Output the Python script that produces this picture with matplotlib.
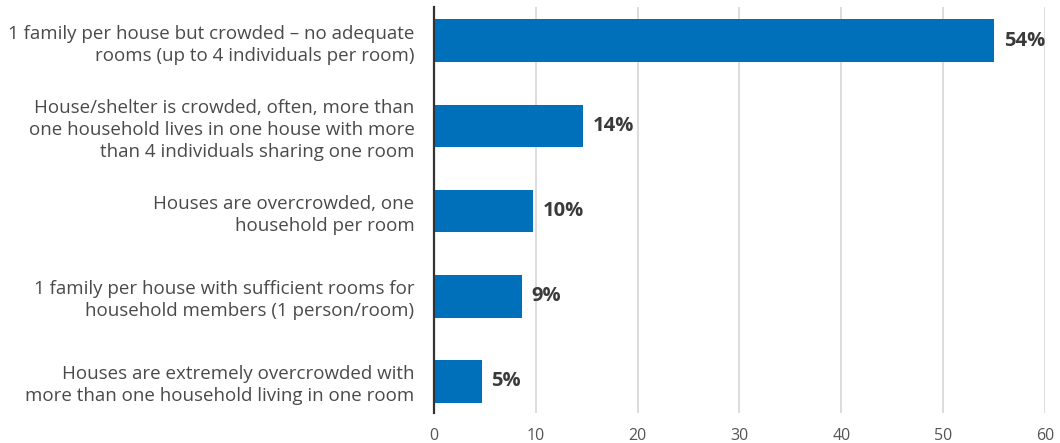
import matplotlib
matplotlib.use("Agg")
import matplotlib.pyplot as plt

categories = [
    "1 family per house but crowded – no adequate\nrooms (up to 4 individuals per room)",
    "House/shelter is crowded, often, more than\none household lives in one house with more\nthan 4 individuals sharing one room",
    "Houses are overcrowded, one\nhousehold per room",
    "1 family per house with sufficient rooms for\nhousehold members (1 person/room)",
    "Houses are extremely overcrowded with\nmore than one household living in one room",
]
values = [55.0, 14.6, 9.7, 8.6, 4.7]
value_labels = ["54%", "14%", "10%", "9%", "5%"]
xticks = [0, 10, 20, 30, 40, 50, 60]

plt.rcParams['font.family'] = ['Open Sans', 'DejaVu Sans']

fig = plt.figure(figsize=(10.6, 4.43), dpi=100)
ax = fig.add_axes([0.4094, 0.0677, 0.9858 - 0.4094, 0.985 - 0.0677])

ypos = list(range(len(categories)))
ax.barh(ypos, values, height=0.5, color="#0070BA", zorder=3)

ax.set_xlim(0, 60)
ax.set_ylim(4.37, -0.40)
ax.set_xticks(xticks)
ax.set_xticklabels([str(t) for t in xticks], fontsize=11.5, color="#555555")
ax.set_yticks(ypos)
ax.set_yticklabels(categories, fontsize=13.5, color="#4a4a4a", linespacing=1.28)
ax.tick_params(axis='both', length=0)
ax.tick_params(axis='y', pad=14)
ax.tick_params(axis='x', pad=11)

ax.grid(axis='x', color="#d5d5d5", linewidth=1.2, zorder=0)
ax.grid(axis='y', visible=False)
for s in ['top', 'right', 'bottom']:
    ax.spines[s].set_visible(False)
ax.spines['left'].set_color("#333333")
ax.spines['left'].set_linewidth(1.6)
ax.spines['left'].set_zorder(4)

for y, v, lab in zip(ypos, values, value_labels):
    ax.annotate(lab, xy=(v, y), xytext=(7, 0), textcoords='offset points',
                ha='left', va='center', fontsize=14.5, fontweight='bold', color="#3a3a3a")

fig.savefig("out.png", dpi=100)
